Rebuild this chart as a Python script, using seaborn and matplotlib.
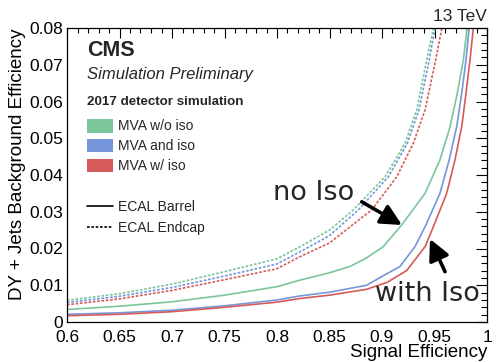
import numpy as np
import pandas as pd
import matplotlib
matplotlib.use("Agg")
import matplotlib.pyplot as plt
from matplotlib.patches import Patch
from matplotlib.lines import Line2D
from matplotlib.ticker import MultipleLocator, FuncFormatter
import seaborn as sns

# ROC curves: signal efficiency vs DY + jets background efficiency
# ECAL barrel (solid)
eb_wo_iso_sig = [0.60, 0.65, 0.70, 0.75, 0.80, 0.822, 0.85, 0.8695, 0.885, 0.9012, 0.9187, 0.941, 0.9552, 0.9648, 0.9717, 0.9775, 0.981]
eb_wo_iso_bkg = [0.0034, 0.0043, 0.0055, 0.0073, 0.0096, 0.0114, 0.0134, 0.0151, 0.0174, 0.0205, 0.0264, 0.0350, 0.0441, 0.0531, 0.0622, 0.0713, 0.0800]

eb_and_iso_sig = [0.60, 0.65, 0.70, 0.75, 0.80, 0.822, 0.85, 0.8854, 0.90, 0.9171, 0.9314, 0.941, 0.9552, 0.964, 0.9711, 0.9759, 0.980, 0.983]
eb_and_iso_bkg = [0.0021, 0.0025, 0.0032, 0.0044, 0.0060, 0.0071, 0.0081, 0.0100, 0.0124, 0.0151, 0.0205, 0.0259, 0.0350, 0.0441, 0.0531, 0.0622, 0.0713, 0.0800]

eb_w_iso_sig = [0.60, 0.65, 0.70, 0.75, 0.80, 0.822, 0.85, 0.8854, 0.905, 0.9235, 0.941, 0.9489, 0.9616, 0.9695, 0.9759, 0.980, 0.9838, 0.987]
eb_w_iso_bkg = [0.0017, 0.0021, 0.0028, 0.0040, 0.0054, 0.0064, 0.0073, 0.0089, 0.0108, 0.0140, 0.0205, 0.0259, 0.0350, 0.0441, 0.0531, 0.0622, 0.0713, 0.0800]

# ECAL endcap (dashed)
ee_wo_iso_sig = [0.60, 0.65, 0.70, 0.75, 0.80, 0.822, 0.85, 0.8727, 0.9029, 0.9219, 0.933, 0.9426, 0.949]
ee_wo_iso_bkg = [0.0059, 0.0077, 0.0103, 0.0137, 0.0172, 0.0205, 0.0250, 0.0305, 0.0395, 0.0486, 0.0577, 0.0713, 0.0800]

ee_and_iso_sig = [0.60, 0.65, 0.70, 0.75, 0.80, 0.822, 0.85, 0.8775, 0.906, 0.9241, 0.9352, 0.945, 0.9505]
ee_and_iso_bkg = [0.0053, 0.0070, 0.0094, 0.0125, 0.0158, 0.0191, 0.0235, 0.0305, 0.0395, 0.0486, 0.0577, 0.0713, 0.0800]

ee_w_iso_sig = [0.60, 0.65, 0.70, 0.75, 0.80, 0.822, 0.85, 0.8902, 0.914, 0.9298, 0.941, 0.9511, 0.957]
ee_w_iso_bkg = [0.0047, 0.0063, 0.0086, 0.0115, 0.0145, 0.0178, 0.0215, 0.0305, 0.0395, 0.0486, 0.0577, 0.0713, 0.0800]

mva_labels = ["MVA w/o iso", "MVA and iso", "MVA w/ iso"]
region_labels = ["ECAL Barrel", "ECAL Endcap"]
x_ticks = [0.6, 0.65, 0.7, 0.75, 0.8, 0.85, 0.9, 0.95, 1.0]
y_ticks = [0, 0.01, 0.02, 0.03, 0.04, 0.05, 0.06, 0.07, 0.08]

colors = {"MVA w/o iso": "#7cc59b", "MVA and iso": "#7596da", "MVA w/ iso": "#d65a5a"}
endcap_dash = (1.6, 1.0)

curves = [
    ("MVA w/o iso", "ECAL Barrel", eb_wo_iso_sig, eb_wo_iso_bkg),
    ("MVA and iso", "ECAL Barrel", eb_and_iso_sig, eb_and_iso_bkg),
    ("MVA w/ iso", "ECAL Barrel", eb_w_iso_sig, eb_w_iso_bkg),
    ("MVA w/o iso", "ECAL Endcap", ee_wo_iso_sig, ee_wo_iso_bkg),
    ("MVA and iso", "ECAL Endcap", ee_and_iso_sig, ee_and_iso_bkg),
    ("MVA w/ iso", "ECAL Endcap", ee_w_iso_sig, ee_w_iso_bkg),
]
frames = []
for i, (mva, region, sig, bkg) in enumerate(curves):
    frames.append(pd.DataFrame({"sig": sig, "bkg": bkg, "mva": mva,
                                "region": region, "curve": i}))
df = pd.concat(frames, ignore_index=True)

sns.set_theme(style="white")
plt.rcParams["font.family"] = ["Liberation Sans", "DejaVu Sans"]
plt.rcParams["axes.linewidth"] = 0.9

W, H = 499, 362
fig = plt.figure(figsize=(W / 100, H / 100), dpi=100)
ax = fig.add_axes([67 / W, 40 / H, 420 / W, 294 / H])

sns.lineplot(data=df, x="sig", y="bkg", hue="mva", style="region", units="curve",
             estimator=None, sort=False, palette=colors,
             dashes={"ECAL Barrel": "", "ECAL Endcap": endcap_dash},
             linewidth=1.2, legend=False, ax=ax)

ax.set_xlim(0.6, 1.0)
ax.set_ylim(0, 0.08)
ax.set_xticks(x_ticks)
ax.set_yticks(y_ticks)
ax.xaxis.set_minor_locator(MultipleLocator(0.01))
ax.yaxis.set_minor_locator(MultipleLocator(0.002))
fmt = FuncFormatter(lambda v, p: f"{v:g}")
ax.xaxis.set_major_formatter(fmt)
ax.yaxis.set_major_formatter(fmt)
for s in ax.spines.values():
    s.set_color("black")
ax.tick_params(axis="both", which="both", direction="in", top=True, right=True,
               colors="black", labelsize=12.5, width=0.8)
ax.tick_params(axis="x", which="major", length=7, pad=6)
ax.tick_params(axis="x", which="minor", length=3.5)
ax.tick_params(axis="y", which="major", length=8, pad=3)
ax.tick_params(axis="y", which="minor", length=4)

ax.set_xlabel("Signal Efficiency", fontsize=13.5, loc="right", labelpad=-1, color="black")
ax.set_ylabel("DY + Jets Background Efficiency", fontsize=13.5, loc="top", labelpad=2, color="black")

fig.text(487 / W, 1 - 21 / H, "13 TeV", ha="right", va="baseline", fontsize=12.5)


def to_axes(xp, yp):
    """Pixel position (from the top-left of the figure) in axes fraction."""
    return ax.transAxes.inverted().transform(fig.transFigure.transform((xp / W, 1 - yp / H)))


for txt, (xp, yp), kw in [
    ("CMS", (87, 56), dict(fontsize=15.5, fontweight="bold")),
    ("Simulation Preliminary", (87, 79), dict(fontsize=12, fontstyle="italic")),
    ("2017 detector simulation", (87, 105), dict(fontsize=9.6, fontweight="bold")),
]:
    x0, y0 = to_axes(xp, yp)
    ax.text(x0, y0, txt, transform=ax.transAxes, va="baseline", ha="left", **kw)

patch_handles = [Patch(facecolor=colors[m], edgecolor="none", label=m) for m in mva_labels]
leg1 = ax.legend(handles=patch_handles, loc="upper left", bbox_to_anchor=to_axes(87, 119),
                 frameon=False, fontsize=10, handlelength=1.85, handleheight=1.12,
                 handletextpad=0.35, labelspacing=0.38, borderpad=0, borderaxespad=0)
ax.add_artist(leg1)

line_handles = [Line2D([], [], color="black", lw=1.2, ls="-", label=region_labels[0]),
                Line2D([], [], color="black", lw=1.2, ls=(0, endcap_dash), label=region_labels[1])]
ax.legend(handles=line_handles, loc="upper left", bbox_to_anchor=to_axes(87, 200),
          frameon=False, fontsize=10, handlelength=1.85, handletextpad=0.35,
          labelspacing=0.5, borderpad=0, borderaxespad=0)

arrow = dict(arrowstyle="-|>,head_length=0.9,head_width=0.45", lw=2.6, color="black",
             shrinkA=0, shrinkB=0, mutation_scale=14)
ax.annotate("", xy=(0.9190, 0.0264), xytext=(0.8807, 0.0327), arrowprops=arrow)
ax.annotate("", xy=(0.9457, 0.0226), xytext=(0.960, 0.0137), arrowprops=arrow)
ax.text(0.835, 0.0332, "no Iso", ha="center", va="baseline", fontsize=19.5, family="DejaVu Sans")
ax.text(0.9433, 0.0058, "with Iso", ha="center", va="baseline", fontsize=19.5, family="DejaVu Sans")

fig.savefig("out.png", dpi=100)
